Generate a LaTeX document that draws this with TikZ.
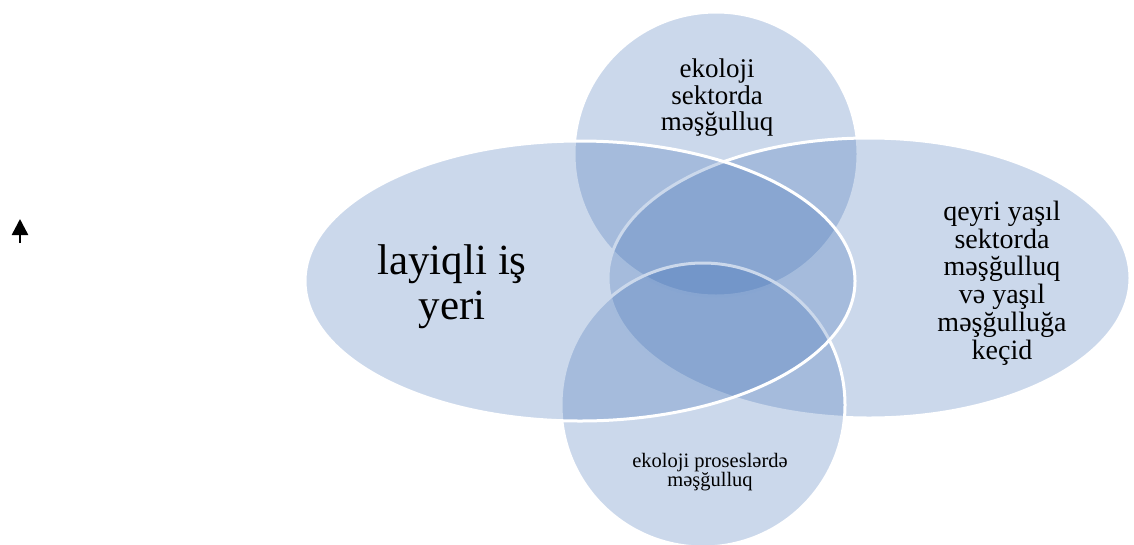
\documentclass[tikz,border=0pt]{standalone}
\usepackage{fontspec}
\setmainfont{Liberation Serif}
\usetikzlibrary{arrows.meta}
\definecolor{vennblue}{RGB}{55,105,178}
\tikzset{
  venn/.style={fill=vennblue, fill opacity=0.26, draw=white, draw opacity=1, line width=3pt},
  lbl/.style={align=center, text=black, inner sep=0pt, text opacity=1},
}
\begin{document}
\begin{tikzpicture}[x=1pt,y=-1pt]
\useasboundingbox (0,0) rectangle (1134,544);
% shapes (drawing order matters for the white rims)
\path[venn] (716,154) circle [radius=142];
\path[venn] (869,278) ellipse [x radius=261, y radius=140];
\path[venn] (703,405) circle [radius=142];
\path[venn] (580,281) ellipse [x radius=275, y radius=140];
% labels
\node[lbl, font=\fontsize{43}{45}\selectfont] (left) at (452,287) {layiqli iş\\yeri};
\node[lbl, font=\fontsize{27}{26.5}\selectfont] (top) at (717,98) {ekoloji\\sektorda\\məşğulluq};
\node[lbl, font=\fontsize{28}{27.8}\selectfont] (right) at (1002,283) {qeyri yaşıl\\sektorda\\məşğulluq\\və yaşıl\\məşğulluğa\\keçid};
\node[lbl, font=\fontsize{20.5}{19.5}\selectfont] (bottom) at (710,472) {ekoloji proseslərdə\\məşğulluq};
% small arrow on the left
\coordinate (arrS) at (20,243);
\coordinate (arrE) at (20,219);
\draw[line width=2.5pt, -{Triangle[width=16pt,length=16pt]}] (arrS) -- (arrE);
\end{tikzpicture}
\end{document}
